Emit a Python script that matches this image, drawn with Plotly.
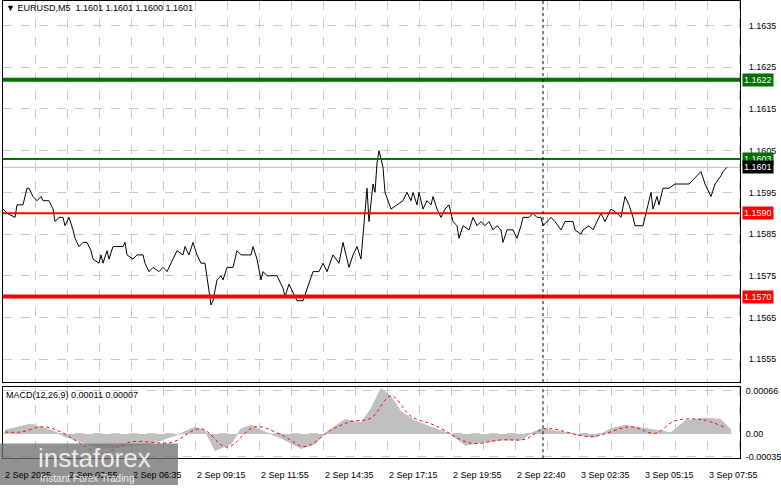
import plotly.graph_objects as go

# ---------------- data ----------------
# 5-minute bar index and close price
price_bars = [0, 2, 6, 7, 10, 12, 13, 15, 17, 19,
              20, 23, 25, 26, 28, 30, 31, 33, 35, 36,
              38, 40, 42, 44, 45, 48, 49, 50, 52, 53,
              55, 60, 61, 62, 65, 67, 70, 71, 73, 75,
              78, 80, 82, 85, 87, 90, 91, 93, 95, 97,
              99, 101, 103, 104, 105, 107, 109, 110, 112, 115,
              117, 119, 121, 124, 125, 127, 129, 130, 132, 135,
              137, 140, 141, 143, 145, 147, 150, 153, 155, 158,
              160, 162, 164, 165, 168, 170, 172, 173, 175, 177,
              179, 180, 182, 183, 185, 186, 187, 188, 190, 191,
              194, 197,
              200, 202, 204, 205, 207, 208, 210, 212, 214, 215,
              217, 219, 221, 223, 225, 227, 228, 230, 233, 235,
              237, 239, 241, 243, 245, 247, 249, 250, 252, 255,
              257, 259, 260, 263, 265, 267, 269, 270, 274, 276,
              279, 281, 285, 286, 289, 290, 293, 295, 299, 301,
              304, 307, 309, 311, 313, 315, 316, 319, 320, 322,
              324, 325, 327, 328, 330, 333, 336, 340, 343, 345,
              349, 351, 354, 356, 359, 360, 362]
close = [1.1591, 1.1590, 1.1589, 1.1592, 1.1592, 1.1596, 1.1596, 1.1594, 1.1593, 1.1594,
         1.1593, 1.1593, 1.1591, 1.1588, 1.1589, 1.1589, 1.1587, 1.1589, 1.1586, 1.1584,
         1.1582, 1.1583, 1.1583, 1.1581, 1.1579, 1.1578, 1.1580, 1.1578, 1.1581, 1.1579,
         1.1582, 1.1582, 1.1583, 1.1580, 1.1579, 1.1580, 1.1580, 1.1578, 1.1576, 1.1577,
         1.1576, 1.1577, 1.1576, 1.1579, 1.1581, 1.1580, 1.1582, 1.1580, 1.1583, 1.1580,
         1.1578, 1.1578, 1.1572, 1.1568, 1.1569, 1.1574, 1.1575, 1.1574, 1.1577, 1.1577,
         1.1581, 1.1580, 1.1580, 1.1580, 1.1582, 1.1579, 1.1574, 1.1576, 1.1575, 1.1575,
         1.1575, 1.1572, 1.1570, 1.1573, 1.1571, 1.1569, 1.1569, 1.1573, 1.1576, 1.1576,
         1.1578, 1.1576, 1.1579, 1.1580, 1.1578, 1.1583, 1.1579, 1.1577, 1.1580, 1.1582,
         1.1579, 1.1585, 1.1596, 1.1588, 1.1597, 1.1595, 1.1602, 1.1605, 1.1601, 1.1595,
         1.1591, 1.1592,
         1.1593, 1.1595, 1.1593, 1.1595, 1.1592, 1.1595, 1.1591, 1.1593, 1.1592, 1.1594,
         1.1591, 1.1589, 1.1591, 1.1592, 1.1588, 1.1587, 1.1584, 1.1587, 1.1586, 1.1589,
         1.1587, 1.1588, 1.1587, 1.1588, 1.1586, 1.1587, 1.1586, 1.1583, 1.1586, 1.1586,
         1.1584, 1.1587, 1.1589, 1.1589, 1.1590, 1.1589, 1.1589, 1.1587, 1.1589, 1.1588,
         1.1586, 1.1588, 1.1588, 1.1586, 1.1585, 1.1586, 1.1587, 1.1586, 1.1590, 1.1588,
         1.1591, 1.1590, 1.1589, 1.1594, 1.1592, 1.1589, 1.1587, 1.1587, 1.1587, 1.1591,
         1.1595, 1.1591, 1.1594, 1.1592, 1.1596, 1.1596, 1.1597, 1.1597, 1.1597, 1.1598,
         1.1600, 1.1597, 1.1594, 1.1597, 1.1599, 1.1600, 1.1601]

# MACD(12,26,9) histogram and signal line, in units of 1e-5
macd_bars = [1, 14, 24, 31, 49, 74, 89, 96, 101, 106, 114, 119, 124, 131, 139, 149, 156, 161, 171, 179,
             184, 189, 194, 199, 206, 216, 224, 231, 239, 249, 259, 264, 269, 279, 289, 296, 304, 311, 326,
             334, 341, 351, 359, 364]
macd_hist = [5.6, 15, 5.6, -4, -22, -15, 1, 10, 5, -25, -15, 8, 13, 3, -6, -22, -15, 1, 22, 17, 38, 69,
             57, 34, 20, 8, 0, -17, -13, -9, -9, 1, 8, 3, -1, -5, 8, 13, 6, 2, 20, 24, 22, 6]
signal_bars = [1, 9, 20, 29, 39, 49, 64, 84, 99, 112, 126, 139, 151, 164, 174, 184, 194, 204, 216, 234,
               249, 261, 271, 294, 314, 326, 336, 349, 361]
signal_vals = [3, 3, 11, 3, -15, -30, -12, -13, 8, -20, 11, -1, -19, 6, 19, 24, 58, 27, 13, -14, -9, -8,
               8, -4, 11, 1, 20, 22, 10]

levels = [1.1622, 1.1603, 1.1590, 1.1570]
level_colors = ["#007000", "#007000", "#ff0000", "#ff0000"]
level_widths = [4, 2, 2, 4]
bid = 1.1601

price_ticks = [1.1635, 1.1625, 1.1615, 1.1605, 1.1595, 1.1585, 1.1575, 1.1565, 1.1555]
time_labels = ["2 Sep 2025", "2 Sep 03:55", "2 Sep 06:35", "2 Sep 09:15", "2 Sep 11:55", "2 Sep 14:35",
               "2 Sep 17:15", "2 Sep 19:55", "2 Sep 22:40", "3 Sep 02:35", "3 Sep 05:15", "3 Sep 07:55"]

FONT = "Liberation Sans"
W, H = 781, 489
x0, x1 = 3 / W, 740 / W
xr = [0, 368.5]
grid_x = list(range(0, 369, 16))

fig = go.Figure()
fig.add_trace(go.Scatter(x=price_bars, y=close, mode="lines", line=dict(color="black", width=1),
                         xaxis="x", yaxis="y", hoverinfo="skip"))
fig.add_trace(go.Scatter(x=macd_bars, y=[v * 1e-5 for v in macd_hist], mode="lines", fill="tozeroy",
                         fillcolor="#c0c0c0", line=dict(color="#c0c0c0", width=1),
                         xaxis="x2", yaxis="y2", hoverinfo="skip"))
fig.add_trace(go.Scatter(x=signal_bars, y=[v * 1e-5 for v in signal_vals], mode="lines",
                         line=dict(color="red", width=1, dash="dot", shape="spline"),
                         xaxis="x2", yaxis="y2", hoverinfo="skip"))

shapes = []
annotations = []
for lvl, col, w in zip(levels, level_colors, level_widths):
    shapes.append(dict(type="line", xref="x", yref="y", x0=xr[0], x1=xr[1], y0=lvl, y1=lvl,
                       line=dict(color=col, width=w), layer="above"))
shapes.append(dict(type="line", xref="x", yref="y", x0=xr[0], x1=xr[1], y0=bid, y1=bid,
                   line=dict(color="#c0c0c0", width=1), layer="below"))
# dashed vertical line through both panels
for yref in ["y domain", "y2 domain"]:
    shapes.append(dict(type="line", xref="x", yref=yref, x0=270, x1=270, y0=0, y1=1,
                       line=dict(color="black", width=1, dash="dot")))
# watermark box
shapes.append(dict(type="rect", xref="paper", yref="paper", x0=0, x1=178 / W, y0=0, y1=42 / H,
                   fillcolor="rgba(110,110,110,0.75)", line=dict(width=0)))

# price tags on the right
tags = [(1.1622, "#007000"), (1.1603, "#007000"), (bid, "black"), (1.1590, "#ff0000"), (1.1570, "#ff0000")]
for val, bg in tags:
    annotations.append(dict(x=x1 + 0.002, xref="paper", y=val, yref="y", text=f"{val:.4f}",
                            showarrow=False, xanchor="left", yanchor="middle", bgcolor=bg,
                            font=dict(color="white", size=9, family=FONT), borderpad=1))

for i, lab in enumerate(time_labels):
    annotations.append(dict(x=i * 32, xref="x2", y=3 / H, yref="paper", text=lab, showarrow=False,
                            xanchor="left", yanchor="bottom", font=dict(size=9, family=FONT, color="black")))

annotations.append(dict(x=0.005, y=1, xref="paper", yref="paper",
                        text="▼ EURUSD,M5  1.1601 1.1601 1.1600 1.1601",
                        showarrow=False, xanchor="left", yanchor="top", font=dict(size=9, family=FONT)))
annotations.append(dict(x=0.005, y=1 - 391 / H, xref="paper", yref="paper", text="MACD(12,26,9) 0.00011 0.00007",
                        showarrow=False, xanchor="left", yanchor="top", font=dict(size=9, family=FONT)))
annotations.append(dict(x=36 / W, y=27 / H, xref="paper", yref="paper", text="instaforex",
                        showarrow=False, xanchor="left", yanchor="middle",
                        font=dict(size=26, family=FONT, color="rgba(255,255,255,0.85)")))
annotations.append(dict(x=38 / W, y=7 / H, xref="paper", yref="paper", text="Instant Forex Trading",
                        showarrow=False, xanchor="left", yanchor="middle",
                        font=dict(size=10, family=FONT, color="rgba(255,255,255,0.85)")))

axis_common = dict(showline=True, linecolor="black", mirror=True, zeroline=False,
                   gridcolor="#c8c8c8", griddash="dash", gridwidth=1)
fig.update_layout(
    width=W, height=H, margin=dict(l=0, r=0, t=0, b=0),
    paper_bgcolor="white", plot_bgcolor="white", showlegend=False,
    font=dict(family=FONT, size=9, color="black"),
    xaxis=dict(domain=[x0, x1], range=xr, tickvals=grid_x, showticklabels=False, ticks="", **axis_common),
    yaxis=dict(domain=[1 - 385 / H, 1], range=[1.15495, 1.16409], side="right", tickvals=price_ticks,
               tickformat=".4f", anchor="x", ticks="", ticklabelstandoff=6, **axis_common),
    xaxis2=dict(domain=[x0, x1], range=xr, tickvals=grid_x, showticklabels=False, ticks="",
                anchor="y2", **axis_common),
    yaxis2=dict(domain=[1 - 462 / H, 1 - 390 / H], range=[-0.00037, 0.000715], side="right",
                tickvals=[0.00066, 0, -0.00035], ticktext=["0.00066", "0.00", "-0.00035"],
                anchor="x2", ticks="", ticklabelstandoff=3, **axis_common),
    shapes=shapes, annotations=annotations,
)

# drop the default page margin so the figure sits at the window's corner
fig.write_html("out.html", config={"displayModeBar": False},
               post_script="document.body.style.margin='0';")
